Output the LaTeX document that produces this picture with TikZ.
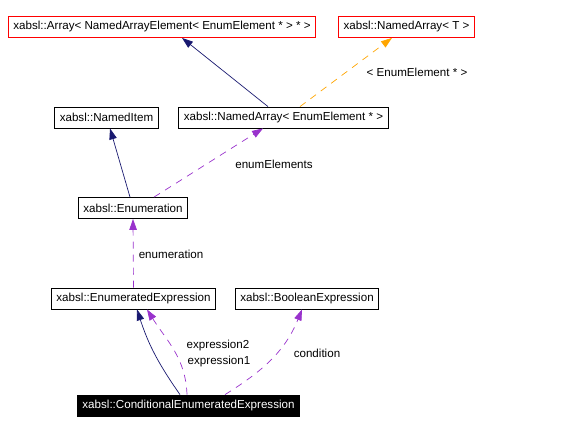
\documentclass[tikz,border=0pt]{standalone}
\usepackage{fontspec}
\setmainfont{Liberation Sans}
\usepackage{tikz}
\usetikzlibrary{arrows.meta}

\definecolor{inhnavy}{RGB}{25,25,112}
\definecolor{usepurple}{RGB}{153,50,204}
\definecolor{tmplorange}{RGB}{255,165,0}

\tikzset{
	classbox/.style={draw=black, line width=0.8pt, fill=white, inner xsep=5pt, inner ysep=0pt, minimum height=21pt, font=\fontsize{11.6}{13}\selectfont},
	tmplbox/.style={classbox, draw=red},
	focusbox/.style={classbox, draw=black, fill=black, text=white},
	edgelabel/.style={font=\fontsize{11.6}{13}\selectfont, inner sep=0pt},
	inherit/.style={draw=inhnavy, line width=0.7pt, -{Triangle[length=11pt,width=7.5pt]}},
	usage/.style={draw=usepurple, line width=0.7pt, dash pattern=on 7pt off 6pt, -{Triangle[length=11pt,width=7.5pt]}},
	instance/.style={draw=tmplorange, line width=0.7pt, dash pattern=on 7pt off 6pt, -{Triangle[length=11pt,width=7.5pt]}}
}

\begin{document}
\begin{tikzpicture}[x=1pt, y=-1pt]
	\useasboundingbox (0,0) rectangle (581,433);
	% classes
	\node[tmplbox] (array) at (162,27) {xabsl::Array< NamedArrayElement< EnumElement * > * >};
	\node[tmplbox] (namedarrayT) at (406.5,27) {xabsl::NamedArray< T >};
	\node[classbox] (nameditem) at (106.5,117.5) {xabsl::NamedItem};
	\node[classbox] (namedarrayE) at (283.5,117.5) {xabsl::NamedArray< EnumElement * >};
	\node[classbox] (enumeration) at (133,208) {xabsl::Enumeration};
	\node[classbox] (enumexpr) at (133.5,298.5) {xabsl::EnumeratedExpression};
	\node[classbox] (boolexpr) at (307,298.5) {xabsl::BooleanExpression};
	\node[focusbox] (condexpr) at (188.5,405.5) {xabsl::ConditionalEnumeratedExpression};
	% edge labels
	\node[edgelabel] (lblinst) at (417,72) {< EnumElement * >};
	\node[edgelabel] (lblelems) at (274,164) {enumElements};
	\node[edgelabel] (lblenum) at (171,254) {enumeration};
	\node[edgelabel] (lblexpr2) at (218,345) {expression2};
	\node[edgelabel] (lblexpr1) at (219,361) {expression1};
	\node[edgelabel] (lblcond) at (317,353) {condition};
	% edges
	\draw[inherit] ([xshift=-15.5pt]namedarrayE.north) -- ([xshift=20pt]array.south);
	\draw[instance] ([xshift=16.5pt]namedarrayE.north) -- ([xshift=-14.5pt]namedarrayT.south);
	\draw[inherit] ([xshift=-3pt]enumeration.north) -- ([xshift=3.5pt]nameditem.south);
	\draw[usage] ([xshift=21pt]enumeration.north) -- ([xshift=-20.5pt]namedarrayE.south);
	\draw[usage] (enumexpr.north) -- (enumeration.south);
	\draw[inherit] ([xshift=-8.5pt]condexpr.north) to[out=125, in=-72] ([xshift=3.5pt]enumexpr.south);
	\draw[usage] ([xshift=-1.5pt]condexpr.north) to[out=92, in=-58] ([xshift=13.5pt]enumexpr.south);
	\draw[usage] ([xshift=36.5pt]condexpr.north) to[out=32, in=-112] ([xshift=-5pt]boolexpr.south);
\end{tikzpicture}
\end{document}
